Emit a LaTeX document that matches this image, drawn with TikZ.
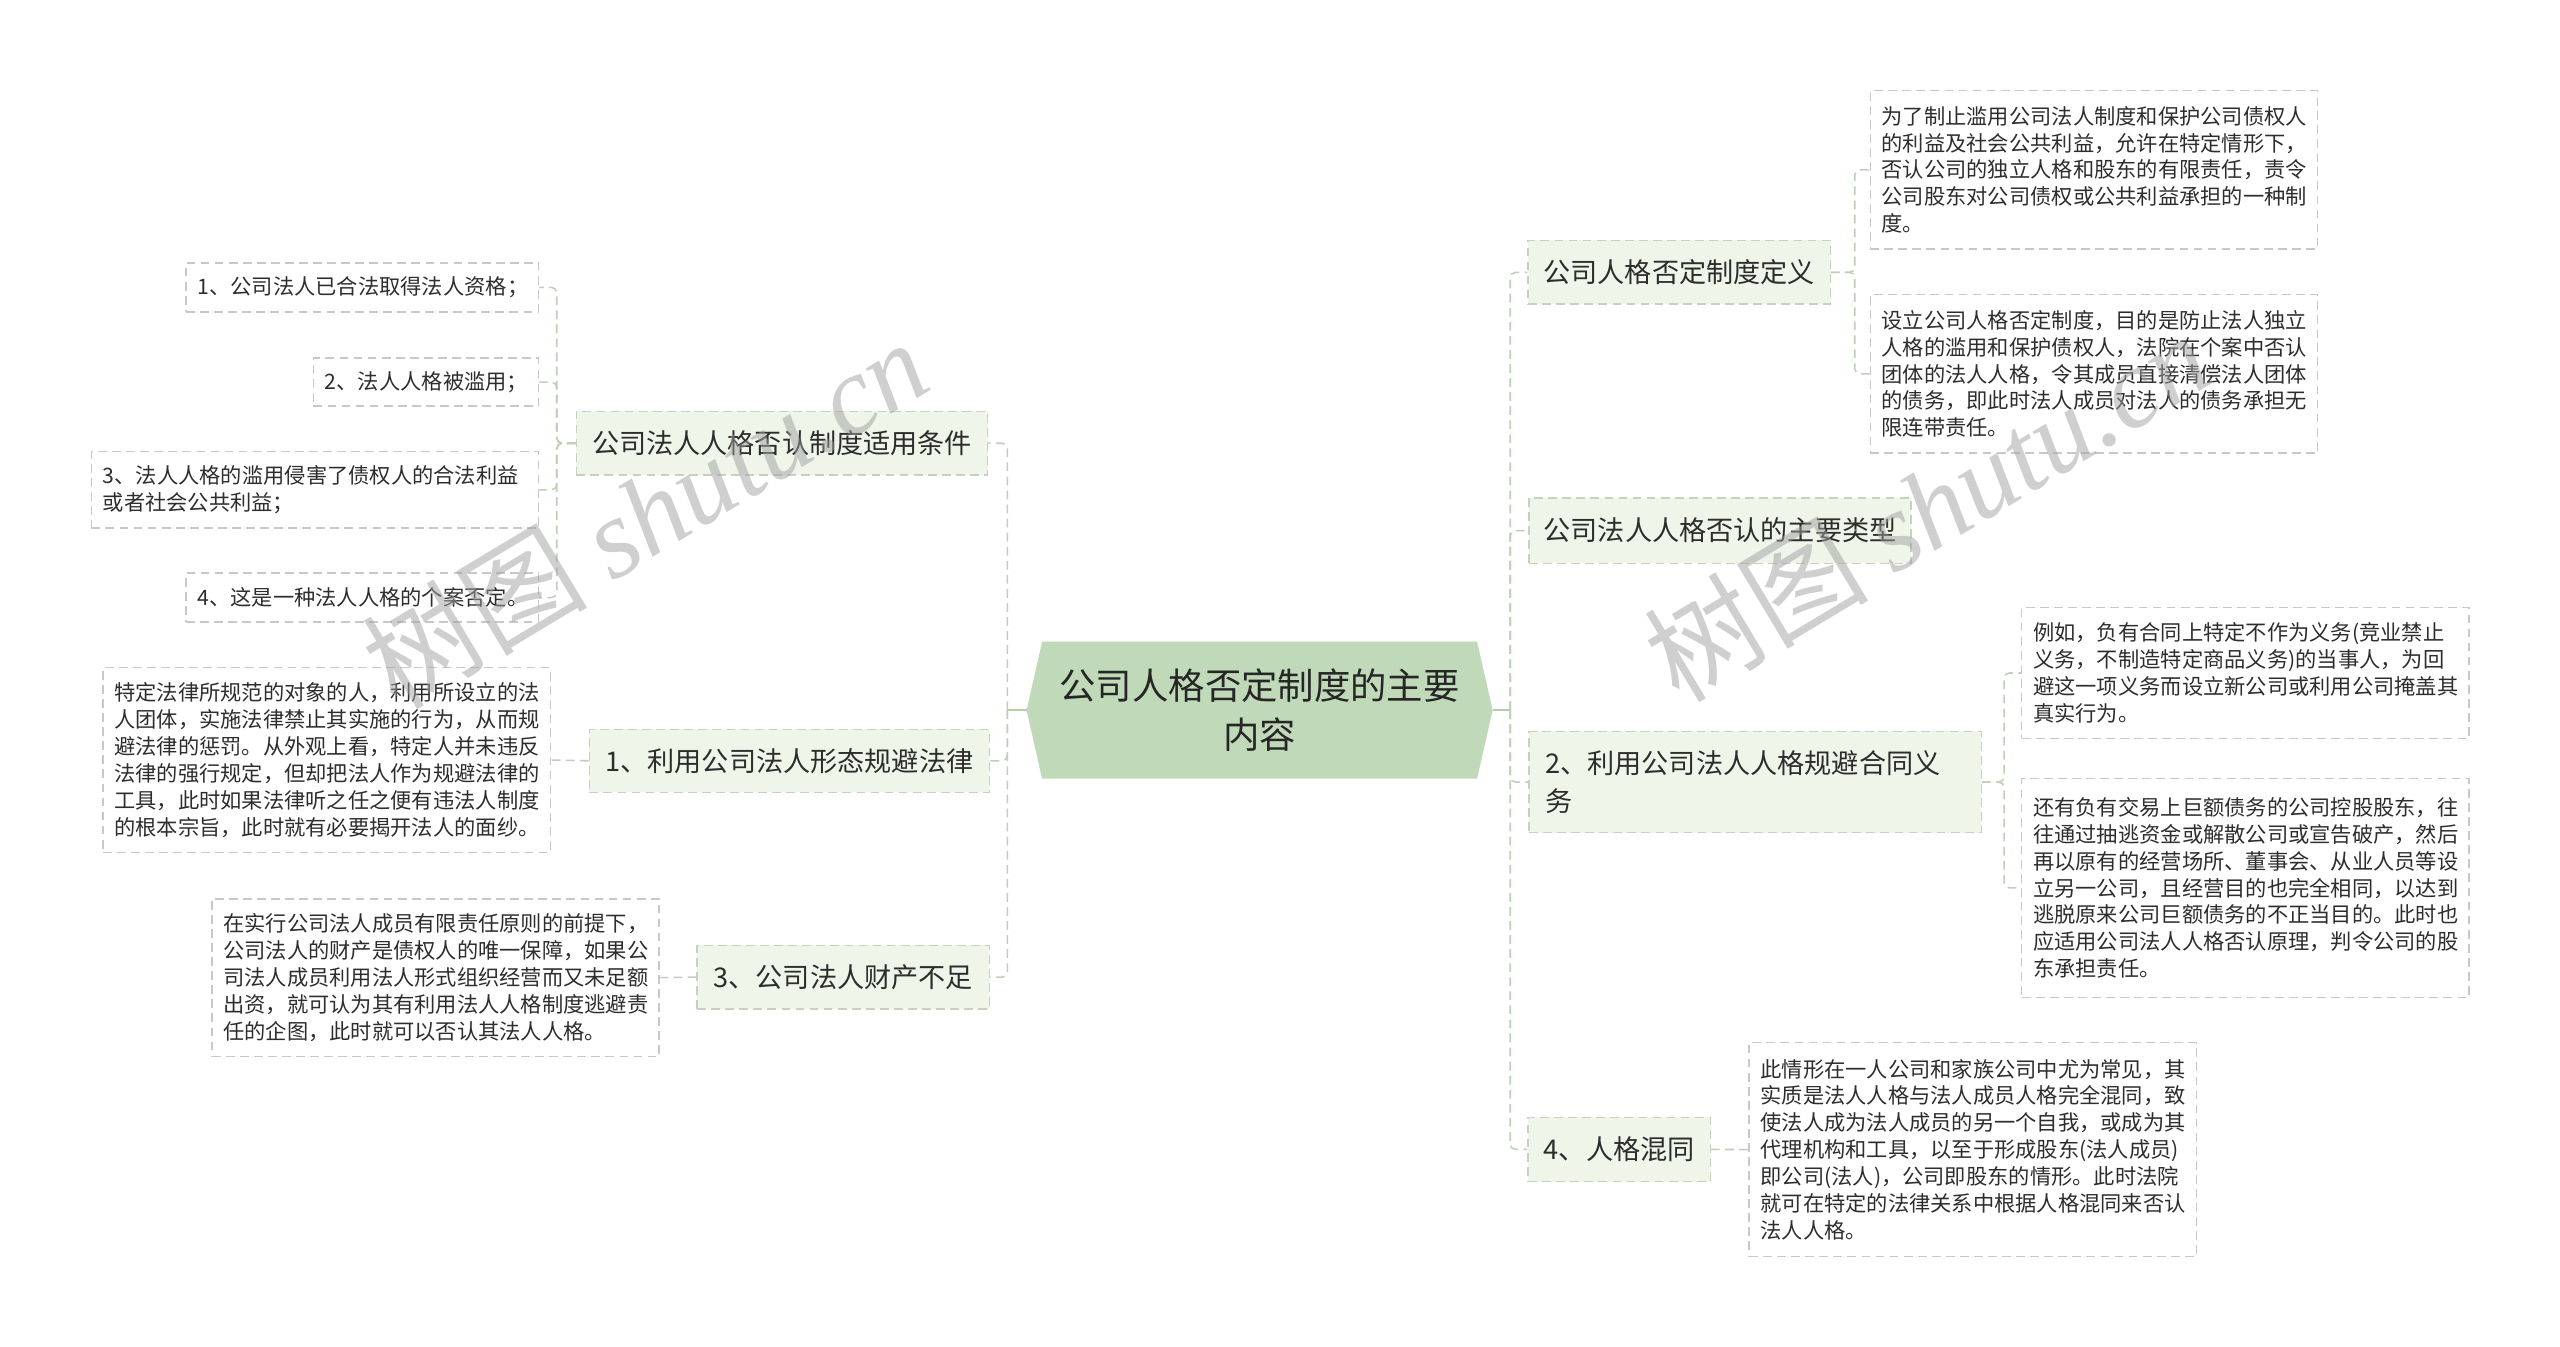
\documentclass[tikz,border=0pt]{standalone}
\usepackage{fontspec}
\setmainfont{Noto Sans CJK SC}
\newfontfamily\wmserif{Liberation Serif}
\usetikzlibrary{calc}
\pgfdeclarelayer{background}
\pgfsetlayers{background,main}
\newdimen\U
\U=0.9291pt
\definecolor{rootfill}{RGB}{192,217,185}
\definecolor{rootline}{RGB}{178,206,170}
\definecolor{mainfill}{RGB}{239,245,233}
\definecolor{mainborder}{RGB}{196,210,190}
\definecolor{leafborder}{RGB}{200,200,200}
\definecolor{connc}{RGB}{190,208,183}
\definecolor{txt}{RGB}{45,45,45}
\definecolor{wmc}{RGB}{160,160,160}
\begin{document}
\begin{tikzpicture}[x=0.9291pt,y=-0.9291pt,
  mainbox/.style={draw=mainborder, line width=0.8pt, dash pattern=on 5pt off 3pt, fill=mainfill, text=txt,
    font=\fontsize{15.45pt}{21.4pt}\selectfont, inner sep=0pt, minimum height=39\U, align=center},
  leafbox/.style={draw=leafborder, line width=0.8pt, dash pattern=on 5pt off 3pt, fill=white, text=txt,
    font=\fontsize{12.1pt}{15.3pt}\selectfont, align=left, inner xsep=7\U, inner ysep=0pt, text width=260\U},
  conn/.style={draw=connc, line width=0.9pt, dash pattern=on 5pt off 3pt, rounded corners=3pt},
  rootconn/.style={draw=rootline, line width=1.3pt},
  rootnode/.style={text=black!85, font=\fontsize{20.7pt}{27.9pt}\selectfont, align=center, inner sep=0pt,
    minimum width=285\U, minimum height=83.5\U},
  wm/.style={text=wmc, opacity=0.5, font=\fontsize{64pt}{64pt}\selectfont, inner sep=0pt}
]
\useasboundingbox (0,0) rectangle (1568,825);
\begin{pgfonlayer}{background}
\fill[white] (0,0) rectangle (1568,825);
\end{pgfonlayer}

% root
\node[rootnode] (root) at (771.5,435) {公司人格否定制度的主要\\内容};
\begin{pgfonlayer}{background}
\fill[rootfill] (root.west) -- ($(root.north west)+(9.5,0)$) -- ($(root.north east)+(-9.5,0)$) -- (root.east)
  -- ($(root.south east)+(-9.5,0)$) -- ($(root.south west)+(9.5,0)$) -- cycle;
\end{pgfonlayer}

% left main branches
\node[mainbox, minimum width=252\U] (b1) at (479,271.5) {公司法人人格否认制度适用条件};
\node[mainbox, minimum width=245\U, minimum height=38.5\U] (b2) at (483.5,466) {1、利用公司法人形态规避法律};
\node[mainbox, minimum width=179\U] (b3) at (516.5,598.5) {3、公司法人财产不足};

% left leaves
\node[leafbox, text width=202\U, minimum height=30\U] (l1) at (222,176) {1、公司法人已合法取得法人资格；};
\node[leafbox, text width=124\U, minimum height=29.5\U] (l2) at (261,234) {2、法人人格被滥用；};
\node[leafbox, minimum height=47\U] (l3) at (193,300) {3、法人人格的滥用侵害了债权人的合法利益\\或者社会公共利益；};
\node[leafbox, text width=202\U, minimum height=30\U] (l4) at (222,366) {4、这是一种法人人格的个案否定。};
\node[leafbox, minimum height=113\U] (l5) at (200,465.5) {特定法律所规范的对象的人，利用所设立的法\\人团体，实施法律禁止其实施的行为，从而规\\避法律的惩罚。从外观上看，特定人并未违反\\法律的强行规定，但却把法人作为规避法律的\\工具，此时如果法律听之任之便有违法人制度\\的根本宗旨，此时就有必要揭开法人的面纱。};
\node[leafbox, minimum height=96.5\U] (l6) at (266.75,598.8) {在实行公司法人成员有限责任原则的前提下，\\公司法人的财产是债权人的唯一保障，如果公\\司法人成员利用法人形式组织经营而又未足额\\出资，就可认为其有利用法人人格制度逃避责\\任的企图，此时就可以否认其法人人格。};

% right main branches
\node[mainbox, minimum width=185\U] (r1) at (1028.5,166.8) {公司人格否定制度定义};
\node[mainbox, minimum width=234\U, minimum height=40\U] (r2) at (1053.5,325) {公司法人人格否认的主要类型};
\node[mainbox, minimum width=277\U, minimum height=62\U, text width=257\U, align=left, inner xsep=10\U] (r3) at (1075,479) {2、利用公司法人人格规避合同义\\务};
\node[mainbox, minimum width=111.5\U, minimum height=39.4\U] (r4) at (991.75,704) {4、人格混同};

% right leaves
\node[leafbox, minimum height=97\U] (rl1) at (1282.5,104) {为了制止滥用公司法人制度和保护公司债权人\\的利益及社会公共利益，允许在特定情形下，\\否认公司的独立人格和股东的有限责任，责令\\公司股东对公司债权或公共利益承担的一种制\\度。};
\node[leafbox, minimum height=97\U] (rl2) at (1282.5,229) {设立公司人格否定制度，目的是防止法人独立\\人格的滥用和保护债权人，法院在个案中否认\\团体的法人人格，令其成员直接清偿法人团体\\的债务，即此时法人成员对法人的债务承担无\\限连带责任。};
\node[leafbox, minimum height=80\U] (rl3) at (1375.3,412.2) {例如，负有合同上特定不作为义务(竞业禁止\\义务，不制造特定商品义务)的当事人，为回\\避这一项义务而设立新公司或利用公司掩盖其\\真实行为。};
\node[leafbox, minimum height=134\U] (rl4) at (1375.3,543.8) {还有负有交易上巨额债务的公司控股股东，往\\往通过抽逃资金或解散公司或宣告破产，然后\\再以原有的经营场所、董事会、从业人员等设\\立另一公司，且经营目的也完全相同，以达到\\逃脱原来公司巨额债务的不正当目的。此时也\\应适用公司法人人格否认原理，判令公司的股\\东承担责任。};
\node[leafbox, minimum height=131\U] (rl5) at (1208.3,704.1) {此情形在一人公司和家族公司中尤为常见，其\\实质是法人人格与法人成员人格完全混同，致\\使法人成为法人成员的另一个自我，或成为其\\代理机构和工具，以至于形成股东(法人成员)\\即公司(法人)，公司即股东的情形。此时法院\\就可在特定的法律关系中根据人格混同来否认\\法人人格。};

% spine coordinates
\coordinate (lsp) at (617,435);
\coordinate (rsp) at (925,435);
\coordinate (b1s) at (341,271.5);
\coordinate (r1s) at (1136,166.8);
\coordinate (r3s) at (1227.5,479);

% connectors
\draw[rootconn] (root.west) -- (lsp);
\draw[rootconn] (root.east) -- (rsp);
\draw[conn] (lsp) |- (b1.east);
\draw[conn] (lsp) |- (b2.east);
\draw[conn] (lsp) |- (b3.east);
\draw[conn] (b1.west) -- (b1s) |- (l1.east);
\draw[conn] (b1.west) -- (b1s) |- (l2.east);
\draw[conn] (b1.west) -- (b1s) |- (l3.east);
\draw[conn] (b1.west) -- (b1s) |- (l4.east);
\draw[conn] (b2.west) -- (l5.east);
\draw[conn] (b3.west) -- (l6.east);
\draw[conn] (rsp) |- (r1.west);
\draw[conn] (rsp) |- (r2.west);
\draw[conn] (rsp) |- (r3.west);
\draw[conn] (rsp) |- (r4.west);
\draw[conn] (r1.east) -- (r1s) |- (rl1.west);
\draw[conn] (r1.east) -- (r1s) |- (rl2.west);
\draw[conn] (r3.east) -- (r3s) |- (rl3.west);
\draw[conn] (r3.east) -- (r3s) |- (rl4.west);
\draw[conn] (r4.east) -- (rl5.west);

% watermarks
\node[wm, rotate=31] (wm1) at (395,314) {树图 {\wmserif\itshape shutu.cn}};
\node[wm, rotate=31] (wm2) at (1180,310) {树图 {\wmserif\itshape shutu.cn}};
\end{tikzpicture}
\end{document}
